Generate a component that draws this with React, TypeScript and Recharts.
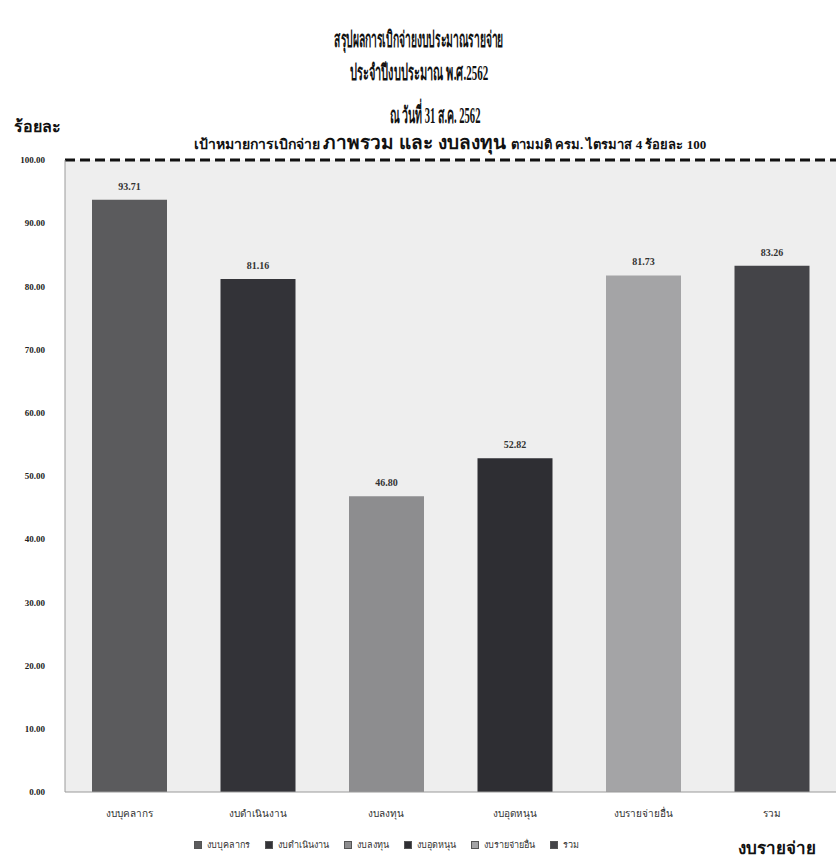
import React from "react";
import { BarChart, Bar, XAxis, YAxis, CartesianGrid, ReferenceLine, LabelList, Cell } from "recharts";

const categories = ["งบบุคลากร", "งบดำเนินงาน", "งบลงทุน", "งบอุดหนุน", "งบรายจ่ายอื่น", "รวม"];
const values = [93.71, 81.16, 46.8, 52.82, 81.73, 83.26];
const barColors = ["#5b5b5d", "#333338", "#8d8d8f", "#2e2e33", "#a4a4a6", "#444448"];
const yTicks = [0, 10, 20, 30, 40, 50, 60, 70, 80, 90, 100];
const target = 100;

const titleLines = ["สรุปผลการเบิกจ่ายงบประมาณรายจ่าย", "ประจำปีงบประมาณ พ.ศ.2562", "ณ วันที่ 31 ส.ค. 2562"];
const subtitleParts = ["เป้าหมายการเบิกจ่าย", "ภาพรวม และ งบลงทุน", "ตามมติ ครม. ไตรมาส 4 ร้อยละ 100"];
const yAxisTitle = "ร้อยละ";
const bottomNote = "งบรายจ่าย";

const data = categories.map((c, i) => ({ name: c, value: values[i] }));

const FONT = "'Liberation Serif', 'DejaVu Serif', serif";

const lineStyle = (top: number, size: number, sx: number, cx = 419): React.CSSProperties => ({
  position: "absolute",
  left: cx - 419,
  width: 838,
  top,
  textAlign: "center",
  fontSize: size,
  fontWeight: 700,
  whiteSpace: "nowrap",
  transform: `scaleX(${sx})`,
  transformOrigin: "50% 50%",
});

export default function App() {
  return (
    <div style={{ position: "absolute", left: 0, top: 0, width: 838, height: 863, background: "#fff", fontFamily: FONT, color: "#111" }}>
      <div style={lineStyle(22, 22, 0.47)}>{titleLines[0]}</div>
      <div style={lineStyle(55, 22, 0.5)}>{titleLines[1]}</div>
      <div style={lineStyle(97, 23, 0.46, 435)}>{titleLines[2]}</div>
      <div style={{ ...lineStyle(127, 14, 1, 450), fontSize: undefined }}>
        <span style={{ fontSize: 14 }}>{subtitleParts[0]} </span>
        <span style={{ fontSize: 19 }}>{subtitleParts[1]} </span>
        <span style={{ fontSize: 13 }}>{subtitleParts[2]}</span>
      </div>
      <div style={{ position: "absolute", left: 14, top: 114, fontSize: 16, fontWeight: 700 }}>{yAxisTitle}</div>
      <BarChart width={838} height={863} data={data} margin={{ top: 160, right: 2, bottom: 41, left: 0 }} barSize={75}>
        <CartesianGrid fill="#eeeeee" horizontal={false} vertical={false} />
        <YAxis
          domain={[0, 100]}
          ticks={yTicks}
          width={65}
          axisLine={{ stroke: "#9a9a9a" }}
          tickLine={false}
          tickMargin={14}
          tickFormatter={(v: number) => v.toFixed(2)}
          tick={{ fontSize: 9, fontWeight: 700, fill: "#222", fontFamily: FONT }}
        />
        <XAxis
          dataKey="name"
          height={30}
          axisLine={{ stroke: "#9a9a9a" }}
          tickLine={false}
          tickMargin={12}
          tick={{ fontSize: 10, fill: "#333", fontFamily: FONT }}
        />
        <Bar dataKey="value" isAnimationActive={false}>
          {data.map((d, i) => (
            <Cell key={d.name} fill={barColors[i]} />
          ))}
          <LabelList
            dataKey="value"
            position="top"
            offset={10}
            formatter={(v: number) => v.toFixed(2)}
            style={{ fontSize: 10, fontWeight: 700, fill: "#333", fontFamily: FONT }}
          />
        </Bar>
        <ReferenceLine y={target} stroke="#111" strokeWidth={3} strokeDasharray="10 5" ifOverflow="extendDomain" />
      </BarChart>
      <div style={{ position: "absolute", left: 194, top: 838, display: "flex", gap: 15, fontSize: 9, color: "#333", whiteSpace: "nowrap" }}>
        {categories.map((c, i) => (
          <span key={c} style={{ display: "flex", alignItems: "center", gap: 5 }}>
            <span style={{ display: "inline-block", width: 6, height: 6, background: barColors[i], border: "1px solid #555" }} />
            {c}
          </span>
        ))}
      </div>
      <div style={{ position: "absolute", left: 738, top: 834, fontSize: 17, fontWeight: 700 }}>{bottomNote}</div>
    </div>
  );
}
